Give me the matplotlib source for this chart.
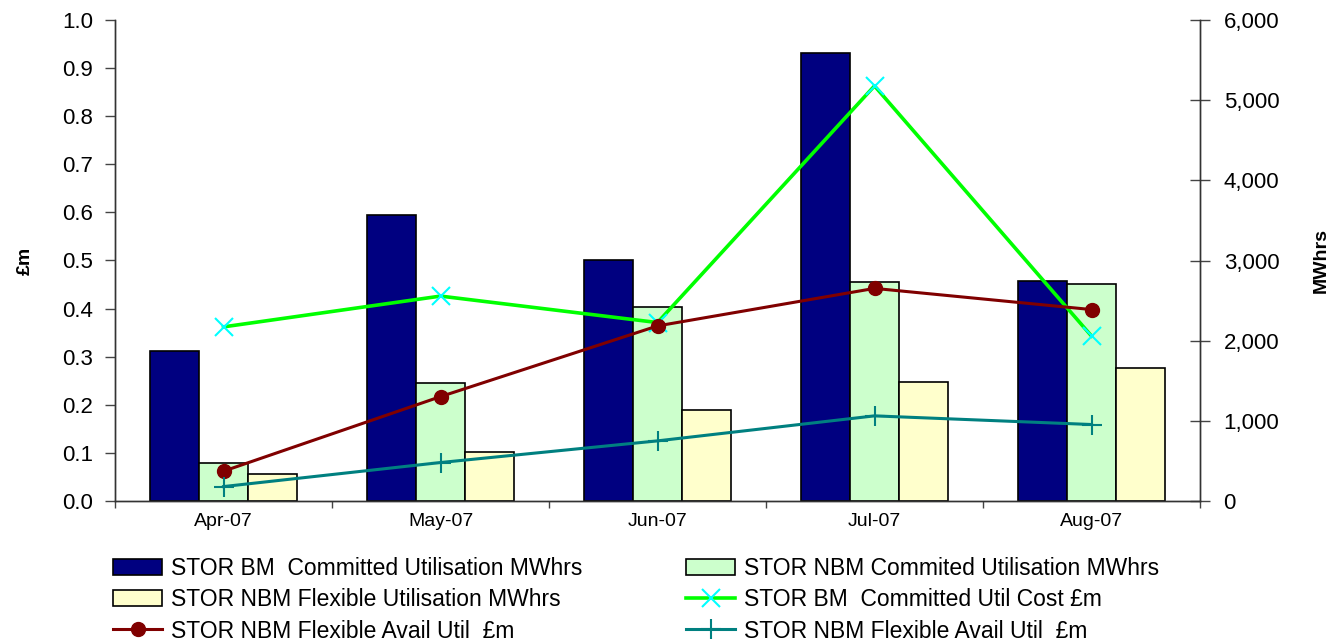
import matplotlib
matplotlib.use("Agg")
import matplotlib.pyplot as plt
import numpy as np
from matplotlib.ticker import FuncFormatter, MultipleLocator

plt.rcParams['font.family'] = ['Liberation Sans', 'DejaVu Sans']

months = ["Apr-07", "May-07", "Jun-07", "Jul-07", "Aug-07"]

# Bars (MWhrs, right axis)
bm_committed_mwh = [1875, 3565, 3010, 5585, 2745]
nbm_committed_mwh = [470, 1470, 2415, 2730, 2710]
nbm_flexible_mwh = [335, 615, 1135, 1480, 1655]

# Lines (£m, left axis)
bm_committed_cost = [0.362, 0.426, 0.371, 0.863, 0.343]
nbm_flex_avail_red = [0.062, 0.217, 0.364, 0.442, 0.398]
nbm_flex_avail_teal = [0.030, 0.080, 0.125, 0.177, 0.159]

fig = plt.figure(figsize=(13.44, 6.4), dpi=100)
ax = fig.add_axes([115/1344, 1-501/640, (1200-115)/1344, (501-20)/640])
axr = ax.twinx()
ax.set_zorder(axr.get_zorder() + 1)
ax.patch.set_visible(False)

x = np.arange(len(months))
w = 0.225
b1 = axr.bar(x - w, bm_committed_mwh, w, color="#000080", edgecolor="black", linewidth=1.2,
             label="STOR BM  Committed Utilisation MWhrs")
b2 = axr.bar(x, nbm_committed_mwh, w, color="#CCFFCC", edgecolor="black", linewidth=1.2,
             label="STOR NBM Commited Utilisation MWhrs")
b3 = axr.bar(x + w, nbm_flexible_mwh, w, color="#FFFFCC", edgecolor="black", linewidth=1.2,
             label="STOR NBM Flexible Utilisation MWhrs")

l1, = ax.plot(x, bm_committed_cost, color="#00FF00", lw=2.6, marker="x", markersize=13,
              markeredgecolor="#00FFFF", markeredgewidth=1.5,
              label="STOR BM  Committed Util Cost £m")
l2, = ax.plot(x, nbm_flex_avail_red, color="#800000", lw=2.2, marker="o", markersize=10,
              markerfacecolor="#800000", markeredgecolor="#800000",
              label="STOR NBM Flexible Avail Util  £m")
l3, = ax.plot(x, nbm_flex_avail_teal, color="#008080", lw=2.2, marker="+", markersize=14,
              markeredgewidth=1.5, label="STOR NBM Flexible Avail Util  £m")

ax.set_xlim(-0.5, len(months) - 0.5)
ax.set_ylim(0, 1.0)
axr.set_ylim(0, 6000)

ax.yaxis.set_major_locator(MultipleLocator(0.1))
ax.yaxis.set_major_formatter(FuncFormatter(lambda v, p: f"{v:.1f}"))
axr.yaxis.set_major_locator(MultipleLocator(1000))
axr.yaxis.set_major_formatter(FuncFormatter(lambda v, p: f"{int(round(v)):,}"))

# category boundaries as major ticks, labels at centres as minor ticks
ax.set_xticks(np.arange(-0.5, len(months), 1.0))
ax.set_xticklabels([])
ax.set_xticks(x, minor=True)
ax.set_xticklabels(months, minor=True)
ax.tick_params(axis='x', which='major', direction='out', length=5, width=1, color="#444444")
ax.tick_params(axis='x', which='minor', length=0, pad=9, labelsize=14)
axr.tick_params(axis='x', which='both', length=0, labelbottom=False)

ax.tick_params(axis='y', direction='out', length=7, width=1, color="#444444", labelsize=16, pad=9)
axr.tick_params(axis='y', direction='inout', length=14, width=1, color="#444444", labelsize=16, pad=10)

for a in (ax, axr):
    a.spines['top'].set_visible(False)
    for s in ('left', 'right', 'bottom'):
        a.spines[s].set_color("#333333")
        a.spines[s].set_linewidth(1.0)

ax.set_ylabel("£m", fontsize=14, fontweight='bold', labelpad=20)
axr.set_ylabel("MWhrs", fontsize=14, fontweight='bold', rotation=90, labelpad=24)

leg_kw = dict(loc='upper left', frameon=False, fontsize=16.5, borderpad=0, borderaxespad=0,
              handlelength=2.15, handletextpad=0.4, labelspacing=0.36)
fig.legend([b1, b3, l2], [b1.get_label(), b3.get_label(), l2.get_label()],
           bbox_to_anchor=(113/1344, 1-557/640), **leg_kw)
fig.legend([b2, l1, l3], [b2.get_label(), l1.get_label(), l3.get_label()],
           bbox_to_anchor=(686/1344, 1-557/640), **leg_kw)

fig.savefig("out.png", dpi=100)
